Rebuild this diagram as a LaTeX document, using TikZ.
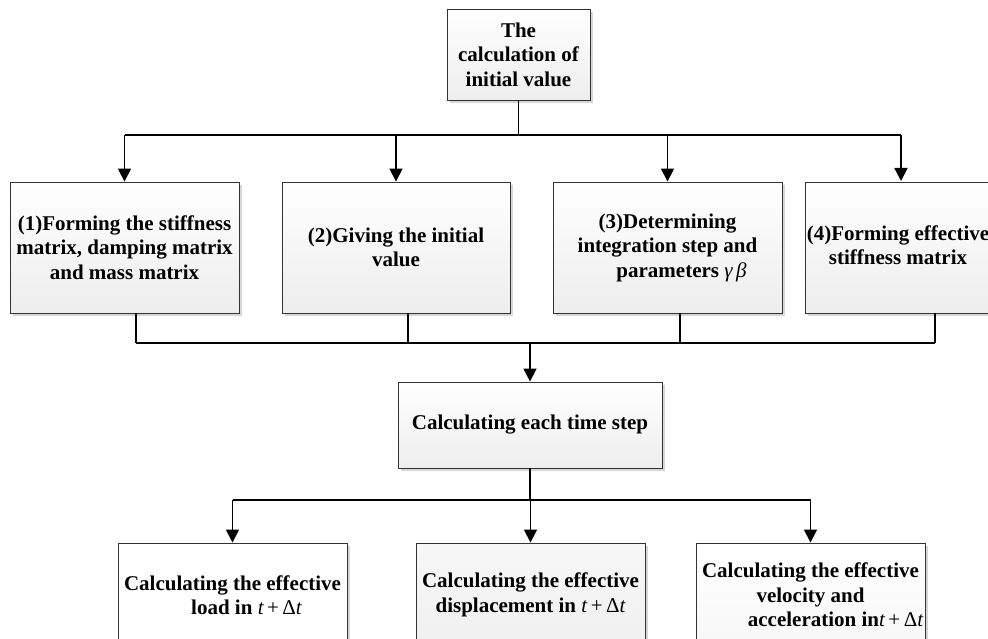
\documentclass[tikz,border=0pt]{standalone}
\usepackage{fontspec}
\setmainfont{Liberation Serif}
\usetikzlibrary{arrows.meta,shadows,calc}
\newcommand\tdtime{{\mdseries\itshape t}\,{\mdseries +}\,{\mdseries Δ\itshape t}}
\begin{document}
\begin{tikzpicture}[x=1pt,y=-1pt,
  box/.style={draw=black!80, line width=0.9pt, top color=white, bottom color=gray!14,
    drop shadow={shadow xshift=3pt,shadow yshift=-3pt,fill=gray!45,opacity=0.7},
    inner sep=0pt, align=center, font=\bfseries\fontsize{21}{24.5}\selectfont},
  lbl/.style={inner sep=0pt, align=center, font=\bfseries\fontsize{21}{24.5}\selectfont},
  conn/.style={line width=1.7pt, black},
  arr/.style={conn, -{Triangle[width=13pt,length=13pt]}}]
\fill[white] (0,0) rectangle (988,639);
\useasboundingbox (0,0) rectangle (988,639);

% top
\node[box, minimum width=143pt, minimum height=91pt] (top) at (518.5,54.5) {The\\calculation of\\initial value};

% second row
\node[box, minimum width=229pt, minimum height=131pt] (b1) at (124.5,247.5) {(1)Forming the stiffness\\matrix, damping matrix\\and mass matrix};
\node[box, minimum width=228pt, minimum height=131pt] (b2) at (396,247.5) {(2)Giving the initial\\value};
\node[box, minimum width=229pt, minimum height=131pt] (b3) at (667.5,247.5) {(3)Determining\\integration step and\\\hspace*{28pt}parameters {\mdseries\itshape γ\,β}};
\node[box, minimum width=229pt, minimum height=131pt] (b4) at (919.5,247.5) {};
\node[lbl] (t4) at (898,245) {(4)Forming effective\\stiffness matrix};

% middle
\node[box, minimum width=264pt, minimum height=86pt] (mid) at (530,425) {Calculating each time step};

% bottom row
\node[box, bottom color=white, minimum width=229pt, minimum height=104pt] (bA) at (232.5,595) {Calculating the effective\\\hspace*{28pt}load in \tdtime};
\node[box, top color=gray!6, bottom color=gray!12, minimum width=229pt, minimum height=104pt] (bB) at (530.5,595) {Calculating the effective\\displacement in \tdtime};
\node[box, bottom color=gray!6, minimum width=229pt, minimum height=104pt] (bC) at (810.5,595) {Calculating the effective\\velocity and\hspace*{16pt}\\\hspace*{50pt}acceleration in\tdtime};

% connector helpers
\coordinate (h1) at (0,135);
\coordinate (h2) at (0,343);
\coordinate (h3) at (0,500);
\coordinate (a4) at (901,181);
\coordinate (o1) at ($(b1.south)+(11.5,0)$);
\coordinate (o2) at ($(b2.south)+(12,0)$);
\coordinate (o3) at ($(b3.south)+(12.5,0)$);
\coordinate (o4) at ($(b4.south)+(15.5,0)$);

% top fan-out
\draw[conn] (top.south) -- (top.south |- h1);
\draw[conn] (b1.north |- h1) -- (a4 |- h1);
\draw[arr] (b1.north |- h1) -- (b1.north);
\draw[arr] (b2.north |- h1) -- (b2.north);
\draw[arr] (b3.north |- h1) -- (b3.north);
\draw[arr] (a4 |- h1) -- (a4);

% fan-in
\draw[conn] (o1) -- (o1 |- h2);
\draw[conn] (o2) -- (o2 |- h2);
\draw[conn] (o3) -- (o3 |- h2);
\draw[conn] (o4) -- (o4 |- h2);
\draw[conn] (o1 |- h2) -- (o4 |- h2);
\draw[arr] (mid.north |- h2) -- (mid.north);

% bottom fan-out
\draw[conn] (mid.south) -- (mid.south |- h3);
\draw[conn] (bA.north |- h3) -- (bC.north |- h3);
\draw[arr] (bA.north |- h3) -- (bA.north);
\draw[arr] (bB.north |- h3) -- (bB.north);
\draw[arr] (bC.north |- h3) -- (bC.north);
\end{tikzpicture}
\end{document}
